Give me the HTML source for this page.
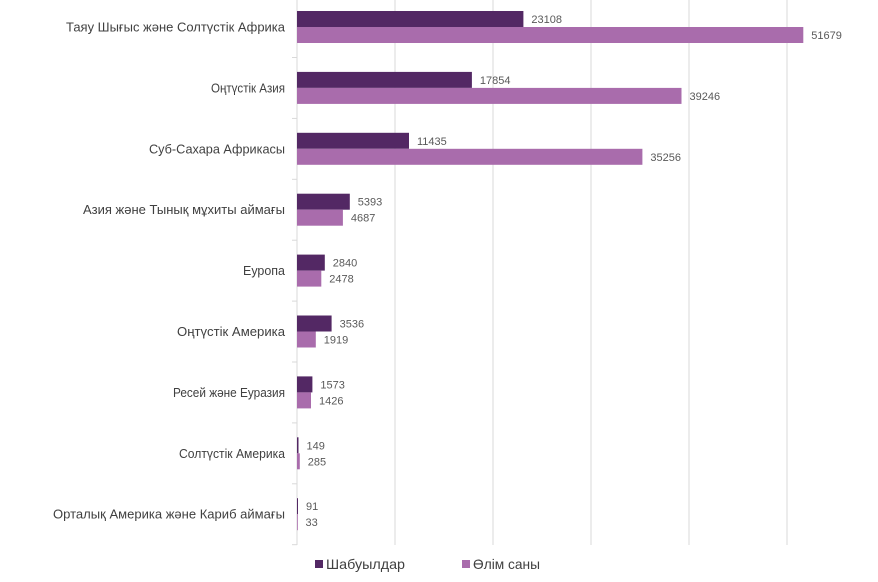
<!DOCTYPE html>
<html>
<head>
<meta charset="utf-8">
<style>
html,body{margin:0;padding:0;background:#fff;}
svg{display:block;}
text{font-family:"Liberation Sans","DejaVu Sans",sans-serif;}
</style>
</head>
<body>
<svg width="878" height="582" viewBox="0 0 878 582" xmlns="http://www.w3.org/2000/svg">
<rect width="878" height="582" fill="#fff"/>
<!-- gridlines -->
<g stroke="#d9d9d9" stroke-width="1">
<line x1="395" y1="-3" x2="395" y2="545"/>
<line x1="493" y1="-3" x2="493" y2="545"/>
<line x1="591" y1="-3" x2="591" y2="545"/>
<line x1="689" y1="-3" x2="689" y2="545"/>
<line x1="787" y1="-3" x2="787" y2="545"/>
<line x1="297" y1="-3" x2="297" y2="545"/>
<line x1="292" y1="57.5" x2="297" y2="57.5"/>
<line x1="292" y1="118.4" x2="297" y2="118.4"/>
<line x1="292" y1="179.3" x2="297" y2="179.3"/>
<line x1="292" y1="240.2" x2="297" y2="240.2"/>
<line x1="292" y1="301.1" x2="297" y2="301.1"/>
<line x1="292" y1="362" x2="297" y2="362"/>
<line x1="292" y1="422.9" x2="297" y2="422.9"/>
<line x1="292" y1="483.8" x2="297" y2="483.8"/>
<line x1="292" y1="544.7" x2="297" y2="544.7"/>
</g>
<!-- bars -->
<g fill="#532864">
<rect x="297" y="11" width="226.4" height="16"/>
<rect x="297" y="71.9" width="174.9" height="16"/>
<rect x="297" y="132.8" width="112" height="16"/>
<rect x="297" y="193.7" width="52.8" height="16"/>
<rect x="297" y="254.6" width="27.8" height="16"/>
<rect x="297" y="315.5" width="34.6" height="16"/>
<rect x="297" y="376.4" width="15.4" height="16"/>
<rect x="297" y="437.3" width="1.5" height="16"/>
<rect x="297" y="498.2" width="1" height="16"/>
</g>
<g fill="#a96cac">
<rect x="297" y="27" width="506.3" height="16"/>
<rect x="297" y="87.9" width="384.5" height="16"/>
<rect x="297" y="148.8" width="345.4" height="16"/>
<rect x="297" y="209.7" width="45.9" height="16"/>
<rect x="297" y="270.6" width="24.3" height="16"/>
<rect x="297" y="331.5" width="18.8" height="16"/>
<rect x="297" y="392.4" width="14" height="16"/>
<rect x="297" y="453.3" width="2.8" height="16"/>
<rect x="297" y="514.2" width="0.8" height="16"/>
</g>
<!-- data labels -->
<g font-size="11" fill="#595959">
<text x="531.4" y="23">23108</text>
<text x="811.3" y="39">51679</text>
<text x="479.9" y="83.9">17854</text>
<text x="689.5" y="99.9">39246</text>
<text x="417" y="144.8">11435</text>
<text x="650.4" y="160.8">35256</text>
<text x="357.8" y="205.7">5393</text>
<text x="350.9" y="221.7">4687</text>
<text x="332.8" y="266.6">2840</text>
<text x="329.3" y="282.6">2478</text>
<text x="339.6" y="327.5">3536</text>
<text x="323.8" y="343.5">1919</text>
<text x="320.4" y="388.4">1573</text>
<text x="319" y="404.4">1426</text>
<text x="306.5" y="449.3">149</text>
<text x="307.8" y="465.3">285</text>
<text x="306" y="510.2">91</text>
<text x="305.5" y="526.2">33</text>
</g>
<!-- category labels -->
<g font-size="13" fill="#404040" text-anchor="end">
<text x="285" y="31.5" textLength="219" lengthAdjust="spacingAndGlyphs">Таяу Шығыс және Солтүстік Африка</text>
<text x="285" y="92.4" textLength="74" lengthAdjust="spacingAndGlyphs">Оңтүстік Азия</text>
<text x="285" y="153.3" textLength="136" lengthAdjust="spacingAndGlyphs">Суб-Сахара Африкасы</text>
<text x="285" y="214.2" textLength="202" lengthAdjust="spacingAndGlyphs">Азия және Тынық мұхиты аймағы</text>
<text x="285" y="275.1" textLength="42" lengthAdjust="spacingAndGlyphs">Еуропа</text>
<text x="285" y="336" textLength="108" lengthAdjust="spacingAndGlyphs">Оңтүстік Америка</text>
<text x="285" y="396.9" textLength="112" lengthAdjust="spacingAndGlyphs">Ресей және Еуразия</text>
<text x="285" y="457.8" textLength="106" lengthAdjust="spacingAndGlyphs">Солтүстік Америка</text>
<text x="285" y="518.7" textLength="232" lengthAdjust="spacingAndGlyphs">Орталық Америка және Кариб аймағы</text>
</g>
<!-- legend -->
<rect x="315" y="560" width="8" height="8" fill="#532864"/>
<text x="326" y="569" font-size="14" fill="#404040" textLength="79" lengthAdjust="spacingAndGlyphs">Шабуылдар</text>
<rect x="462" y="560" width="8" height="8" fill="#a96cac"/>
<text x="473" y="569" font-size="14" fill="#404040" textLength="67" lengthAdjust="spacingAndGlyphs">Өлім саны</text>
</svg>
</body>
</html>
